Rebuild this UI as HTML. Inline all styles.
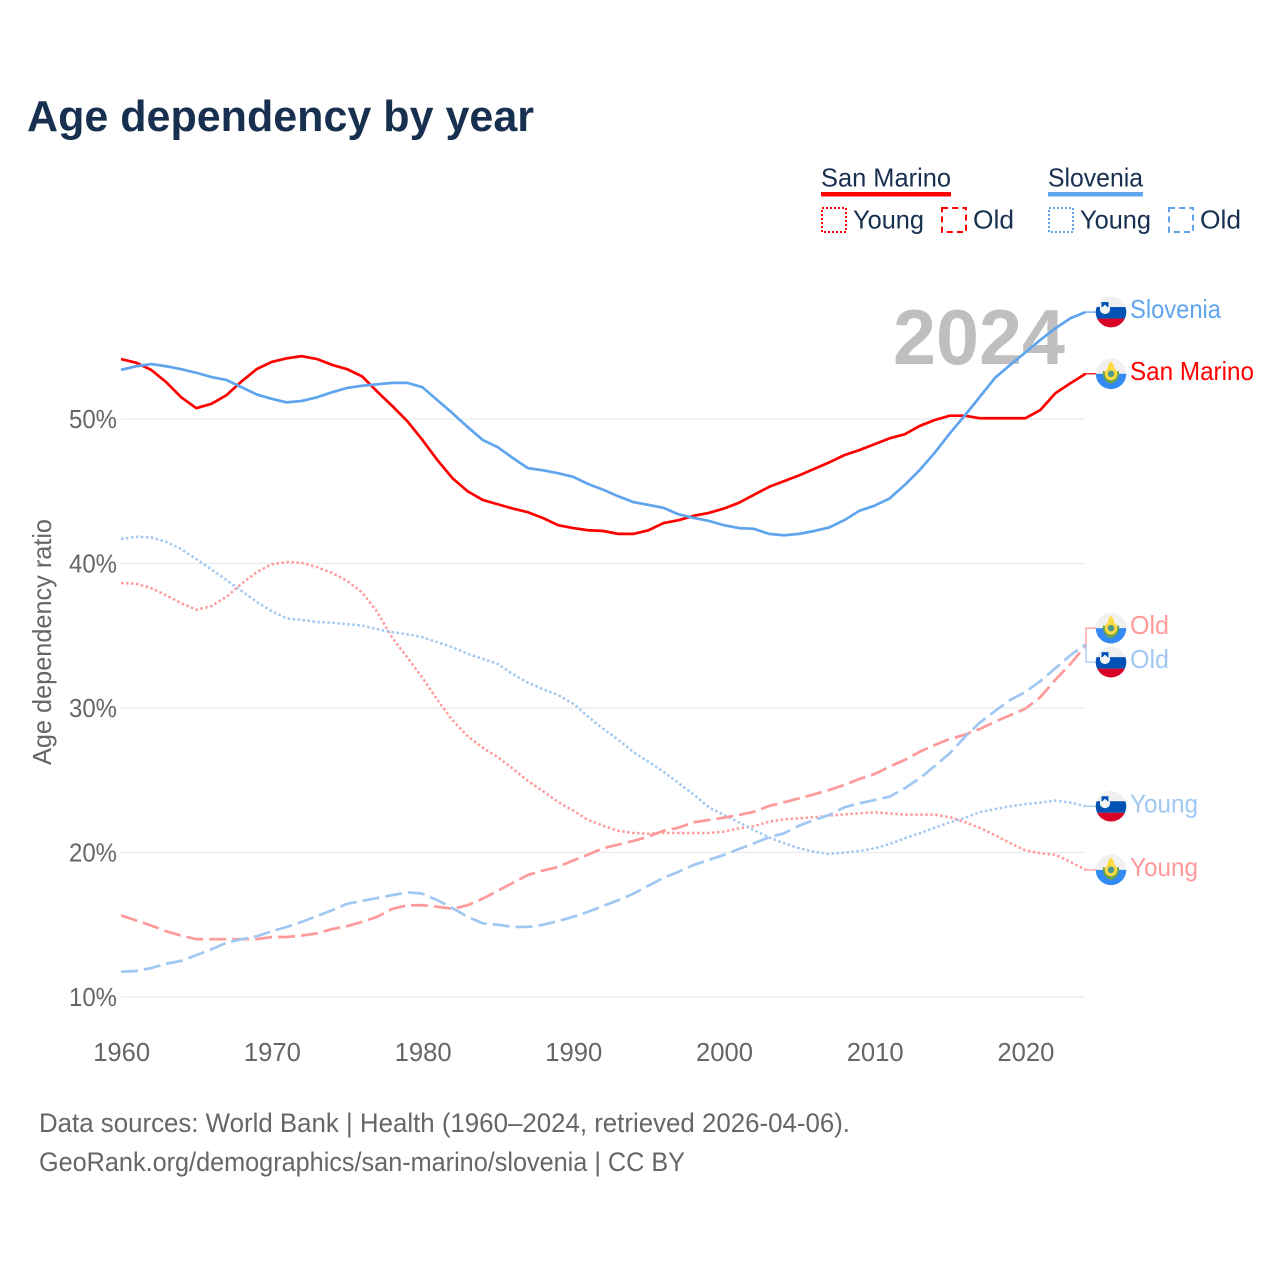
<!DOCTYPE html>
<html lang="en">
<head>
<meta charset="utf-8">
<title>Age dependency by year</title>
<style>
html,body{margin:0;padding:0;background:#fff;width:1280px;height:1280px;overflow:hidden}
svg{display:block;font-family:"Liberation Sans",sans-serif}
</style>
</head>
<body>
<svg id="chart" xmlns="http://www.w3.org/2000/svg" width="1280" height="1280" viewBox="0 0 1280 1280">
  <defs>
    <clipPath id="flag-clip"><circle cx="0" cy="0" r="15.3"/></clipPath>
    <g id="flag-si" clip-path="url(#flag-clip)">
      <rect x="-16" y="-16" width="32" height="32" fill="#f0f0f0"/>
      <rect x="-16" y="-5" width="32" height="11.500" fill="#0052b4"/>
      <rect x="-16" y="6.500" width="32" height="10" fill="#d80027"/>
      <rect x="-9.500" y="-10" width="7" height="5.500" fill="#0052b4"/>
      <path d="M-11,-5 h10 v2.500 q0,3.500 -5,4.500 q-5,-1 -5,-4.500 z" fill="#f5f5f5"/>
      <path d="M-9,-4.500 l3,-3 l3,3 z" fill="#f5f5f5"/>
    </g>
    <g id="flag-sm" clip-path="url(#flag-clip)">
      <rect x="-16" y="-16" width="32" height="16" fill="#f0f0f0"/>
      <rect x="-16" y="0" width="32" height="16" fill="#338af3"/>
      <path d="M-8,-3 q-1,10 8,13 q9,-3 8,-13 l-2,1 q0,7 -6,9 q-6,-2 -6,-9 z" fill="#6da544"/>
      <ellipse cx="0" cy="0" rx="6.200" ry="6.500" fill="#ffda44"/>
      <circle cx="0" cy="0" r="3.300" fill="#4f9a8a"/>
      <rect x="-3" y="-9.500" width="6" height="4" fill="#ffda44"/>
      <rect x="-1.300" y="-12" width="2.600" height="3" fill="#ffda44"/>
    </g>
  </defs>

  <text x="27" y="131" font-size="44" font-weight="700" fill="#18304f" textLength="507" lengthAdjust="spacingAndGlyphs">Age dependency by year</text>

  <g font-size="26" fill="#18304f">
    <g>
      <text x="821" y="186.500" textLength="130" lengthAdjust="spacingAndGlyphs">San Marino</text>
      <rect x="821" y="192" width="130" height="4.500" fill="#ff0000"/>
      <rect x="822" y="208" width="24" height="24" fill="none" stroke="#ff0000" stroke-width="2" stroke-dasharray="2 2"/>
      <text x="853" y="228.500" textLength="71" lengthAdjust="spacingAndGlyphs">Young</text>
      <rect x="942" y="208" width="24" height="24" fill="none" stroke="#ff0000" stroke-width="2" stroke-dasharray="6 4.200"/>
      <text x="973" y="228.500" textLength="41" lengthAdjust="spacingAndGlyphs">Old</text>
    </g>
    <g>
      <text x="1048" y="186.500" textLength="95" lengthAdjust="spacingAndGlyphs">Slovenia</text>
      <rect x="1048" y="192" width="95" height="4.500" fill="#5fa5ee"/>
      <rect x="1049" y="208" width="24" height="24" fill="none" stroke="#5fa5ee" stroke-width="2" stroke-dasharray="2 2"/>
      <text x="1080" y="228.500" textLength="71" lengthAdjust="spacingAndGlyphs">Young</text>
      <rect x="1169" y="208" width="24" height="24" fill="none" stroke="#5fa5ee" stroke-width="2" stroke-dasharray="6 4.200"/>
      <text x="1200" y="228.500" textLength="41" lengthAdjust="spacingAndGlyphs">Old</text>
    </g>
  </g>

  <g id="grid"></g>

  <text x="893" y="364" font-size="78" font-weight="700" fill="#bfbfbf" textLength="172" lengthAdjust="spacingAndGlyphs">2024</text>

  <g id="y-axis"></g>
  <g id="x-axis"></g>
  <text transform="translate(51 642) rotate(-90)" text-anchor="middle" font-size="26" fill="#666666" textLength="246" lengthAdjust="spacingAndGlyphs">Age dependency ratio</text>

  <g id="series"></g>
  <g id="connectors"></g>
  <g id="end-labels"></g>

  <g font-size="27" fill="#666666">
    <text x="39" y="1132" textLength="811" lengthAdjust="spacingAndGlyphs">Data sources: World Bank | Health (1960–2024, retrieved 2026-04-06).</text>
    <text x="39" y="1171" textLength="646" lengthAdjust="spacingAndGlyphs">GeoRank.org/demographics/san-marino/slovenia | CC BY</text>
  </g>
</svg>
<script>
const firstYear = 1960;
const xTicks = [1960, 1970, 1980, 1990, 2000, 2010, 2020];
const yTicks = [10, 20, 30, 40, 50];
const sanMarinoTotal = [54.15,53.9,53.4,52.55,51.5,50.75,51.05,51.65,52.6,53.45,53.95,54.2,54.35,54.15,53.75,53.45,52.95,51.9,50.9,49.85,48.55,47.15,45.9,45.0,44.4,44.1,43.8,43.55,43.15,42.65,42.45,42.3,42.25,42.05,42.05,42.3,42.8,43.0,43.3,43.5,43.8,44.2,44.75,45.3,45.7,46.1,46.55,47.0,47.5,47.85,48.25,48.66,48.94,49.52,49.93,50.23,50.23,50.05,50.05,50.05,50.05,50.62,51.78,52.47,53.13];
const sloveniaTotal = [53.4,53.65,53.8,53.65,53.45,53.2,52.9,52.7,52.2,51.7,51.4,51.15,51.25,51.5,51.85,52.15,52.3,52.4,52.5,52.5,52.2,51.3,50.4,49.45,48.55,48.05,47.3,46.6,46.45,46.25,46.0,45.5,45.1,44.65,44.25,44.05,43.85,43.4,43.15,42.95,42.65,42.45,42.4,42.05,41.95,42.05,42.25,42.5,43.0,43.65,44.0,44.5,45.43,46.47,47.67,49.01,50.25,51.55,52.85,53.74,54.6,55.47,56.27,56.97,57.4];
const sanMarinoYoung = [38.65,38.6,38.3,37.8,37.25,36.8,37.05,37.7,38.6,39.4,39.95,40.1,40.05,39.75,39.35,38.8,38.0,36.65,34.85,33.5,32.1,30.55,29.15,28.05,27.25,26.6,25.8,24.95,24.25,23.5,22.9,22.25,21.85,21.5,21.35,21.3,21.35,21.35,21.35,21.35,21.44,21.67,21.83,22.13,22.3,22.37,22.44,22.55,22.64,22.71,22.78,22.71,22.62,22.62,22.62,22.44,22.1,21.7,21.2,20.65,20.15,19.95,19.85,19.35,18.8];
const sloveniaYoung = [41.7,41.85,41.8,41.5,41.0,40.3,39.6,38.85,38.1,37.35,36.7,36.2,36.1,35.95,35.9,35.8,35.7,35.45,35.25,35.1,34.9,34.55,34.2,33.75,33.4,33.05,32.35,31.75,31.3,30.9,30.3,29.4,28.55,27.8,26.95,26.28,25.59,24.79,24.03,23.13,22.6,22.09,21.55,21.05,20.64,20.29,20.05,19.9,19.99,20.1,20.29,20.59,20.98,21.33,21.72,22.09,22.4,22.8,23.0,23.2,23.35,23.45,23.6,23.45,23.2];
const sanMarinoOld = [15.65,15.3,14.95,14.55,14.25,14.0,14.0,14.0,14.0,14.0,14.15,14.15,14.25,14.4,14.7,14.9,15.2,15.55,16.1,16.35,16.35,16.25,16.1,16.35,16.8,17.35,17.9,18.45,18.75,19.0,19.45,19.85,20.3,20.55,20.8,21.1,21.51,21.72,22.09,22.25,22.41,22.6,22.82,23.22,23.47,23.75,24.03,24.33,24.67,25.09,25.43,25.94,26.4,26.97,27.44,27.86,28.15,28.55,29.05,29.5,29.95,30.75,31.95,33.05,34.3];
const sloveniaOld = [11.75,11.8,12.0,12.3,12.5,12.9,13.3,13.75,14.0,14.2,14.55,14.85,15.2,15.6,16.0,16.45,16.65,16.85,17.05,17.25,17.15,16.7,16.15,15.55,15.1,15.0,14.85,14.85,15.0,15.25,15.55,15.9,16.3,16.7,17.15,17.7,18.25,18.67,19.14,19.48,19.83,20.24,20.64,21.05,21.33,21.86,22.25,22.6,23.13,23.4,23.63,23.86,24.44,25.14,25.99,26.87,28.0,29.0,29.8,30.55,31.1,31.85,32.75,33.65,34.4];

const NS = 'http://www.w3.org/2000/svg';
const xOf = function (year) { return 121 + (year - 1960) * 15.07; };
const yOf = function (v) { return 419 + (50 - v) * 14.45; };

function svgEl(parent, tag, attrs, text) {
  const el = document.createElementNS(NS, tag);
  for (const k in attrs) el.setAttribute(k, attrs[k]);
  if (text !== undefined) el.textContent = text;
  parent.appendChild(el);
  return el;
}

const gridG = document.getElementById('grid');
const yG = document.getElementById('y-axis');
yTicks.forEach(function (t) {
  const line = svgEl(gridG, 'line', { x1: 121, x2: 1085, y1: yOf(t), y2: yOf(t), stroke: '#ebebeb', 'stroke-width': 1.3 });
  
  
  const label = svgEl(yG, 'text', { x: 117, y: yOf(t) + 9, 'text-anchor': 'end', 'font-size': 26, fill: '#666666', textLength: 48, lengthAdjust: 'spacingAndGlyphs' }, t + '%');
  
  
});

const xG = document.getElementById('x-axis');
xTicks.forEach(function (t) {
  const label = svgEl(xG, 'text', { x: xOf(t) + 0.7, y: 1061, 'text-anchor': 'middle', 'font-size': 26, fill: '#666666', textLength: 57, lengthAdjust: 'spacingAndGlyphs' }, String(t));
  
  
});

function drawSeries(name, values, color, width, dash) {
  const pts = values.map(function (v, i) {
    return xOf(firstYear + i).toFixed(2) + ',' + yOf(v).toFixed(2);
  }).join(' ');
  const attrs = { points: pts, fill: 'none', stroke: color, 'stroke-width': width, 'stroke-linejoin': 'round' };
  if (dash) attrs['stroke-dasharray'] = dash;
  const line = svgEl(document.getElementById('series'), 'polyline', attrs);
  
  
}

const DOT = '2.5 2.5';
const DASH = '17 6';
const LR = '#ff9a9a';
const LB = '#a0c8f2';
drawSeries('line-san-marino-young', sanMarinoYoung, LR, 2.5, DOT);
drawSeries('line-slovenia-young', sloveniaYoung, LB, 2.5, DOT);
drawSeries('line-san-marino-old', sanMarinoOld, LR, 2.7, DASH);
drawSeries('line-slovenia-old', sloveniaOld, LB, 2.7, DASH);
drawSeries('line-san-marino-total', sanMarinoTotal, '#ff0000', 2.7, null);
drawSeries('line-slovenia-total', sloveniaTotal, '#5fa5ee', 2.7, null);

function last(a) { return a[a.length - 1]; }

const endItems = [
  { key: 'slovenia-total', text: 'Slovenia', color: '#5fa5ee', flag: 'flag-si', value: last(sloveniaTotal), offset: 0, width: 91 },
  { key: 'san-marino-total', text: 'San Marino', color: '#ff0000', flag: 'flag-sm', value: last(sanMarinoTotal), offset: 0, width: 124 },
  { key: 'san-marino-old', text: 'Old', color: LR, flag: 'flag-sm', value: last(sanMarinoOld), offset: -17, width: 39 },
  { key: 'slovenia-old', text: 'Old', color: LB, flag: 'flag-si', value: last(sloveniaOld), offset: 17, width: 39 },
  { key: 'slovenia-young', text: 'Young', color: LB, flag: 'flag-si', value: last(sloveniaYoung), offset: 0, width: 68 },
  { key: 'san-marino-young', text: 'Young', color: LR, flag: 'flag-sm', value: last(sanMarinoYoung), offset: 0, width: 68 }
];
const connG = document.getElementById('connectors');
const endG = document.getElementById('end-labels');
endItems.forEach(function (item) {
  const y0 = yOf(item.value);
  const yMid = item.offset ? (yOf(last(sanMarinoOld)) + yOf(last(sloveniaOld))) / 2 : y0;
  const yL = yMid + item.offset;
  const d = item.offset ? 'M1086,' + yMid + ' V' + yL + ' H1096' : 'M1085,' + y0 + ' H1096';
  const conn = svgEl(connG, 'path', { d: d, fill: 'none', stroke: item.color, 'stroke-width': 1.3 });
  
  
  const flag = svgEl(endG, 'use', { href: '#' + item.flag, x: 1111, y: yL });
  
  
  const label = svgEl(endG, 'text', { x: 1130, y: yL + 6, 'font-size': 26, fill: item.color, textLength: item.width, lengthAdjust: 'spacingAndGlyphs' }, item.text);
  
  
});
</script>
</body>
</html>
